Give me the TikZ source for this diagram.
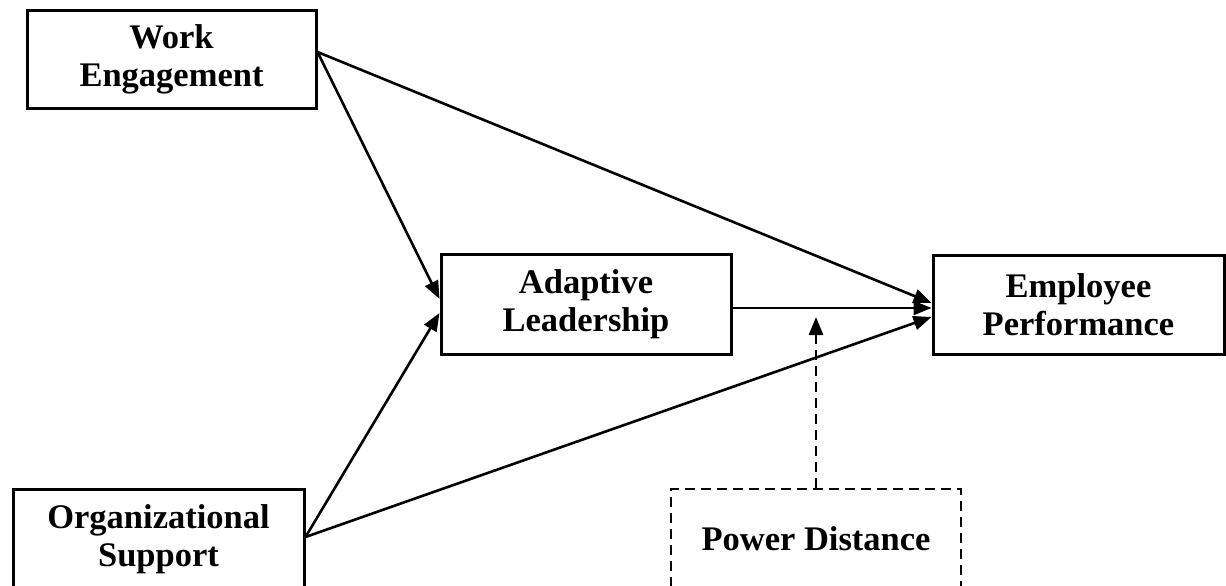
\documentclass[tikz,border=0pt]{standalone}
\usepackage{fontspec}
\setmainfont{Liberation Serif}
\usetikzlibrary{arrows.meta,calc}
\begin{document}
\begin{tikzpicture}[x=1pt,y=-1pt,
  box/.style={draw,line width=3pt,rectangle,inner sep=0pt,align=center,
    font=\fontsize{34.5}{38}\selectfont\bfseries},
  dbox/.style={box,dash pattern=on 10pt off 6pt,line width=2.8pt},
  conn/.style={line width=2.6pt,-{Triangle[length=18pt,width=14pt]}},
  dconn/.style={conn,line width=2.8pt,dash pattern=on 10pt off 6pt}]
\useasboundingbox (0,0) rectangle (1226,586);
\clip (0,0) rectangle (1226,586);
\node[box,minimum width=289pt,minimum height=97pt] (we) at (171.5,59.5) {Work\\Engagement};
\node[box,minimum width=290pt,minimum height=100pt] (al) at (586,304) {Adaptive\\Leadership};
\node[box,minimum width=291pt,minimum height=99pt] (ep) at (1078.5,304.5) {Employee\\Performance};
\node[box,minimum width=291pt,minimum height=100pt] (os) at (158.5,539) {Organizational\\Support};
\node[dbox,minimum width=290pt,minimum height=100pt] (pd) at (816,539) {Power Distance};
\coordinate (mod) at (816,317);
\draw[conn] ([yshift=7.5pt]we.east) -- ([yshift=1.5pt]ep.west);
\draw[conn] ([yshift=7.5pt]we.east) -- ([yshift=5pt]al.west);
\draw[conn] ([yshift=-4pt]al.east) -- ([yshift=-3.5pt]ep.west);
\draw[conn] ([yshift=2pt]os.east) -- ([yshift=-9pt]al.west);
\draw[conn] ([yshift=2pt]os.east) -- ([yshift=-12.5pt]ep.west);
\draw[dconn] (pd.north) -- (mod);
\end{tikzpicture}
\end{document}
